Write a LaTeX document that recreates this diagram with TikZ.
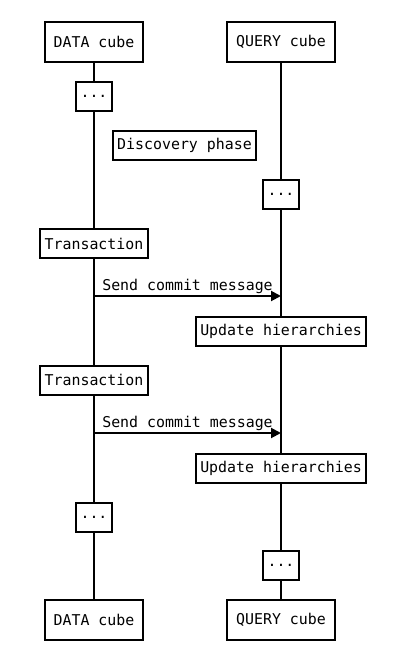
\documentclass[tikz,border=0pt]{standalone}
\usepackage{fontspec}
\setmonofont{DejaVu Sans Mono}
\usetikzlibrary{arrows.meta}
\begin{document}
\begin{tikzpicture}[x=1pt,y=-1pt,
  every node/.style={font=\ttfamily\fontsize{14.9}{17}\selectfont},
  actor/.style={draw,line width=2pt,fill=white,minimum height=40pt,inner xsep=9pt},
  stepbox/.style={draw,line width=2pt,fill=white,minimum height=29pt,inner xsep=4.5pt,inner ysep=0pt},
  life/.style={line width=2pt},
  msg/.style={line width=2pt,-{Triangle[length=10pt,width=10pt]}},
  lbl/.style={above,inner sep=1.5pt}]
\useasboundingbox (0,0) rectangle (393,662);
% left column
\node[actor]   (d0) at (94,42)    {DATA cube};
\node[stepbox] (l1) at (94,96)    {...};
\node[stepbox] (t1) at (94,243.5) {Transaction};
\node[stepbox] (t2) at (94,380)   {Transaction};
\node[stepbox] (l2) at (94,517.5) {...};
\node[actor]   (d1) at (94,620)   {DATA cube};
% right column
\node[actor]   (q0) at (281,42)    {QUERY cube};
\node[stepbox] (r1) at (281,194.5) {...};
\node[stepbox] (u1) at (281,331.5) {Update hierarchies};
\node[stepbox] (u2) at (281,468.5) {Update hierarchies};
\node[stepbox] (r2) at (281,565.5) {...};
\node[actor]   (q1) at (281,620)   {QUERY cube};
% note
\node[stepbox] (disc) at (184.5,145) {Discovery phase};
% lifelines
\draw[life] (d0) -- (l1) -- (t1) -- (t2) -- (l2) -- (d1);
\draw[life] (q0) -- (r1) -- (u1) -- (u2) -- (r2) -- (q1);
% messages
\coordinate (m1s) at (94,296);
\coordinate (m1e) at (281,296);
\coordinate (m2s) at (94,433);
\coordinate (m2e) at (281,433);
\draw[msg] (m1s) -- node[lbl] {Send commit message} (m1e);
\draw[msg] (m2s) -- node[lbl] {Send commit message} (m2e);
\end{tikzpicture}
\end{document}
